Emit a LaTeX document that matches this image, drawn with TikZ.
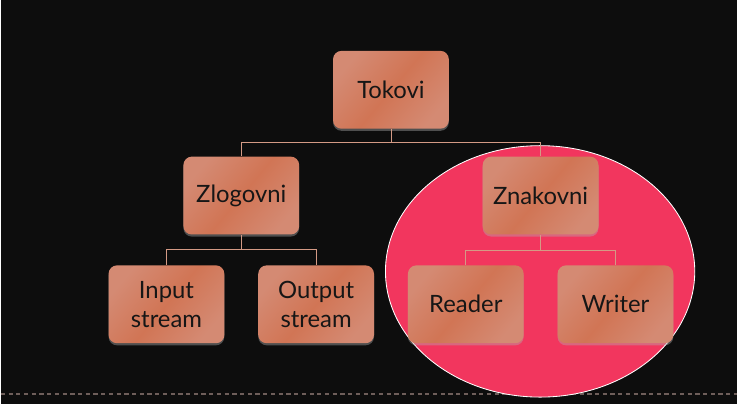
\documentclass[tikz,border=0pt]{standalone}
\usepackage{fontspec}
\setmainfont{Lato}
\usepackage{tikz}
\usetikzlibrary{shadows}
\definecolor{bgcol}{HTML}{0D0D0D}
\definecolor{boxlight}{HTML}{D48A73}
\definecolor{boxdark}{HTML}{D17555}
\definecolor{linecol}{HTML}{D49A85}
\definecolor{ringcol}{HTML}{F2365E}
\definecolor{dashcol}{HTML}{6E5E5A}
\definecolor{txtcol}{HTML}{161616}

\begin{document}
\begin{tikzpicture}[x=0.025cm,y=-0.025cm]
\tikzstyle{box} =[rectangle, rounded corners=6pt, minimum width=2.9cm, minimum height=1.95cm,
  left color=boxlight, right color=boxlight, middle color=boxdark, shading angle=50,
  text=txtcol, font=\fontsize{17}{21}\selectfont, align=center,
  drop shadow={shadow xshift=0pt, shadow yshift=-1.5pt, fill=gray!60, opacity=0.4}]
\tikzset{link/.style={draw=linecol, line width=0.6pt}}

% background and frame
\fill[bgcol] (0,0) rectangle (738,405);
\draw[dashcol, line width=1.2pt, dash pattern=on 3pt off 2.5pt] (0,395) -- (738,395);
\draw[fill=ringcol, draw=white, line width=0.6pt] (540.5,272) ellipse[x radius=155, y radius=126];

% nodes
\node[box](tok) at (391,90){Tokovi};
\node[box](zlog) at (241,196){Zlogovni};
\node[box](znak) at (541,196){Znakovni};
\node[box](inp) at (166,305){Input\\stream};
\node[box](outp) at (316,305){Output\\stream};
\node[box](read) at (466,305){Reader};
\node[box](writ) at (616,305){Writer};

\coordinate (j1) at (391,143);
\coordinate (j2) at (241,250);
\coordinate (j3) at (541,251);

% connectors
\draw[link] (tok) -- (j1) -| (zlog);
\draw[link] (j1) -| (znak);
\draw[link] (zlog) -- (j2) -| (inp);
\draw[link] (j2) -| (outp);
\draw[link] (znak) -- (j3) -| (read);
\draw[link] (j3) -| (writ);
\end{tikzpicture}
\end{document}
